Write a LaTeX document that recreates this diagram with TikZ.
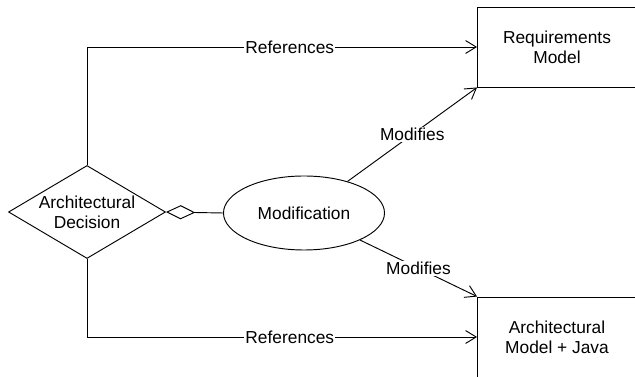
\documentclass[tikz,border=0pt]{standalone}
\usepackage{fontspec}
\setmainfont{Liberation Sans}
\usetikzlibrary{shapes.geometric,arrows.meta}

\begin{document}
\begin{tikzpicture}[x=0.03cm, y=-0.03cm,
    font=\fontsize{14.8}{17}\selectfont, line width=0.8pt,
    refline/.style={-{Straight Barb[length=9pt,width=11pt]}},
    aggline/.style={{Diamond[open,length=25pt,width=12pt]}-},
    lbl/.style={fill=white, inner sep=1pt}]
        % Fix the picture size
        \useasboundingbox (0,0) rectangle (635,377);

        % Place the elements
        \node[diamond, draw, inner sep=0pt, aspect=1.7, minimum width=4.71cm,
              minimum height=2.79cm, align=center] (dec) at (87,212) {Architectural\\Decision};
        \node[ellipse, draw, minimum width=4.83cm, minimum height=2.22cm] (mod) at (304,213) {Modification};
        \node[draw, minimum width=4.77cm, minimum height=2.4cm, align=center] (req) at (557,47) {Requirements\\Model};
        \node[draw, minimum width=4.77cm, minimum height=2.4cm, align=center] (arch) at (557,337) {Architectural\\Model + Java};

        % Draw the connectors
        \draw[refline] (dec.north) |- node[lbl, pos=0.76] {References} (req.west);
        \draw[refline] (dec.south) |- node[lbl, pos=0.76] {References} (arch.west);
        \draw[aggline] (dec.east) -- (mod.west);
        \draw[refline] (mod) -- node[lbl] {Modifies} (req.south west);
        \draw[refline] (mod) -- node[lbl] {Modifies} (arch.north west);
    \end{tikzpicture}
\end{document}
